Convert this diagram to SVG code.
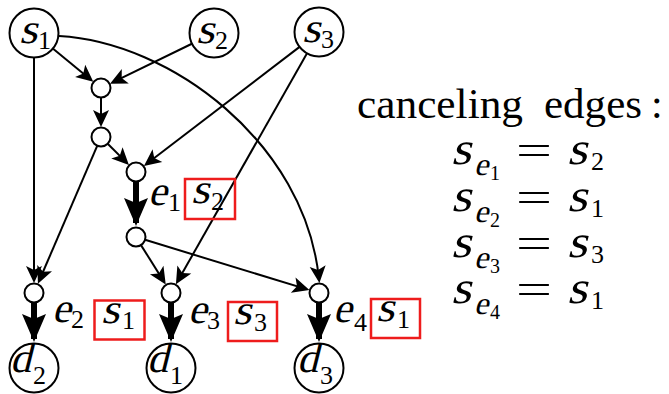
<svg xmlns="http://www.w3.org/2000/svg" width="669" height="394" viewBox="0 0 669 394">
<defs>
<style>
.n { fill: #fff; stroke: #000; stroke-width: 2; }
.e { fill: none; stroke: #000; stroke-width: 2; marker-end: url(#ah); }
.t { fill: none; stroke: #000; stroke-width: 6; marker-end: url(#ahb); }
.box { fill: none; stroke: #ee1c1c; stroke-width: 2.5; }
text { font-family: "Liberation Serif", "Times New Roman", serif; fill: #000; }
.mi { font-size: 42px; }
.ml { font-size: 46px; }
.sub { font-size: 26px; }
.se { font-size: 32px; }
.ss { font-size: 20px; }
.r { font-size: 42px; }
</style>
<marker id="ah" markerUnits="userSpaceOnUse" markerWidth="24" markerHeight="24" viewBox="-16 -12 24 24" refX="0" refY="0" orient="auto">
<path d="M4,0 L-13,-8 L-9,0 L-13,8 Z" fill="#000"/>
</marker>
<marker id="ahb" markerUnits="userSpaceOnUse" markerWidth="36" markerHeight="28" viewBox="-28 -14 36 28" refX="0" refY="0" orient="auto">
<path d="M3,0 L-25,-12 L-20,0 L-25,12 Z" fill="#000"/>
</marker>
</defs>
<rect width="669" height="394" fill="#fff"/>

<g id="connectors">
<line class="e" x1="52.5" y1="48.2" x2="90.2" y2="79.2"/>
<line class="e" x1="192.4" y1="43.5" x2="113.6" y2="81.9"/>
<line class="e" x1="101" y1="97" x2="101" y2="123"/>
<line class="e" x1="107.7" y1="143.7" x2="126.1" y2="162.1"/>
<line class="e" x1="299.9" y1="46.6" x2="147.1" y2="163.5"/>
<line class="e" x1="34" y1="57.5" x2="34" y2="279"/>
<line class="e" x1="97.3" y1="145.7" x2="39.5" y2="280"/>
<path class="e" d="M59,36 C170,42 305,142 319,279"/>
<line class="e" x1="307.2" y1="52.9" x2="177.9" y2="280.8"/>
<line class="e" x1="141" y1="245.1" x2="163.6" y2="281.1"/>
<line class="e" x1="145.1" y1="239.8" x2="305.6" y2="288.9"/>
<line class="t" x1="136" y1="181" x2="136" y2="223"/>
<line class="t" x1="34" y1="302" x2="34" y2="339"/>
<line class="t" x1="171" y1="302" x2="171" y2="339"/>
<line class="t" x1="319" y1="302" x2="319" y2="339"/>
</g>

<g id="s1"><circle class="n" cx="34" cy="33" r="24.5"/><text class="mi" transform="translate(19,43) skewX(-14) scale(1.12,1)">s</text><text class="sub" x="38" y="49">1</text></g>
<g id="s2"><circle class="n" cx="214" cy="33" r="24.5"/><text class="mi" transform="translate(196,43) skewX(-14) scale(1.12,1)">s</text><text class="sub" x="215" y="49">2</text></g>
<g id="s3"><circle class="n" cx="319" cy="32" r="24.5"/><text class="mi" transform="translate(302,42) skewX(-14) scale(1.12,1)">s</text><text class="sub" x="321" y="48">3</text></g>

<g id="a"><circle class="n" cx="101" cy="88" r="9.5"/></g>
<g id="b"><circle class="n" cx="101" cy="137" r="9.5"/></g>
<g id="c"><circle class="n" cx="136" cy="172" r="9.5"/></g>
<g id="f"><circle class="n" cx="136" cy="237" r="9.5"/></g>
<g id="g2"><circle class="n" cx="34" cy="293" r="9.5"/></g>
<g id="g3"><circle class="n" cx="171" cy="293" r="9.5"/></g>
<g id="g4"><circle class="n" cx="319" cy="293" r="9.5"/></g>

<g id="d2"><circle class="n" cx="34" cy="368" r="24.5"/><text class="mi" transform="translate(10,372) skewX(-14)">d</text><text class="sub" x="33" y="384">2</text></g>
<g id="d1"><circle class="n" cx="171" cy="368" r="24.5"/><text class="mi" transform="translate(147,372) skewX(-14)">d</text><text class="sub" x="170" y="384">1</text></g>
<g id="d3"><circle class="n" cx="319" cy="368" r="24.5"/><text class="mi" transform="translate(297,372) skewX(-14)">d</text><text class="sub" x="320" y="384">3</text></g>

<g id="label-e1">
<text class="mi" transform="translate(148,205) skewX(-14)">e</text><text class="sub" x="168" y="211">1</text>
<rect class="box" x="185" y="179" width="50" height="40"/>
<text class="mi" transform="translate(191,203) skewX(-14) scale(1.12,1)">s</text><text class="sub" x="211" y="210">2</text>
</g>
<g id="label-e2">
<text class="mi" transform="translate(52,322) skewX(-14)">e</text><text class="sub" x="71" y="328">2</text>
<rect class="box" x="94.5" y="300.5" width="50" height="39"/>
<text class="mi" transform="translate(101,323) skewX(-14) scale(1.12,1)">s</text><text class="sub" x="122" y="329">1</text>
</g>
<g id="label-e3">
<text class="mi" transform="translate(188,323) skewX(-14)">e</text><text class="sub" x="207" y="329">3</text>
<rect class="box" x="228" y="302" width="49" height="39"/>
<text class="mi" transform="translate(233,324) skewX(-14) scale(1.12,1)">s</text><text class="sub" x="254" y="331">3</text>
</g>
<g id="label-e4">
<text class="mi" transform="translate(333,322) skewX(-14)">e</text><text class="sub" x="354" y="331">4</text>
<rect class="box" x="371" y="299" width="49" height="39"/>
<text class="mi" transform="translate(376,321) skewX(-14) scale(1.12,1)">s</text><text class="sub" x="397" y="328">1</text>
</g>

<g id="legend">
<text class="r" x="357" y="118" textLength="166" lengthAdjust="spacingAndGlyphs">canceling</text>
<text class="r" x="544" y="118" textLength="98" lengthAdjust="spacingAndGlyphs">edges</text>
<text class="r" x="651" y="118">:</text>

<text class="ml" transform="translate(451,164) skewX(-14) scale(1.12,1)">s</text>
<text class="se" transform="translate(474,175) skewX(-14)">e</text><text class="ss" x="490" y="180">1</text>
<text class="r" x="516" y="164" textLength="36" lengthAdjust="spacingAndGlyphs">=</text>
<text class="ml" transform="translate(567,164) skewX(-14) scale(1.12,1)">s</text><text class="sub" x="591" y="170">2</text>

<text class="ml" transform="translate(451,211) skewX(-14) scale(1.12,1)">s</text>
<text class="se" transform="translate(474,222) skewX(-14)">e</text><text class="ss" x="490" y="227">2</text>
<text class="r" x="516" y="211" textLength="36" lengthAdjust="spacingAndGlyphs">=</text>
<text class="ml" transform="translate(567,211) skewX(-14) scale(1.12,1)">s</text><text class="sub" x="591" y="217">1</text>

<text class="ml" transform="translate(451,257) skewX(-14) scale(1.12,1)">s</text>
<text class="se" transform="translate(474,268) skewX(-14)">e</text><text class="ss" x="490" y="273">3</text>
<text class="r" x="516" y="257" textLength="36" lengthAdjust="spacingAndGlyphs">=</text>
<text class="ml" transform="translate(567,257) skewX(-14) scale(1.12,1)">s</text><text class="sub" x="591" y="263">3</text>

<text class="ml" transform="translate(451,303) skewX(-14) scale(1.12,1)">s</text>
<text class="se" transform="translate(474,314) skewX(-14)">e</text><text class="ss" x="490" y="319">4</text>
<text class="r" x="516" y="303" textLength="36" lengthAdjust="spacingAndGlyphs">=</text>
<text class="ml" transform="translate(567,303) skewX(-14) scale(1.12,1)">s</text><text class="sub" x="591" y="309">1</text>
</g>
</svg>
